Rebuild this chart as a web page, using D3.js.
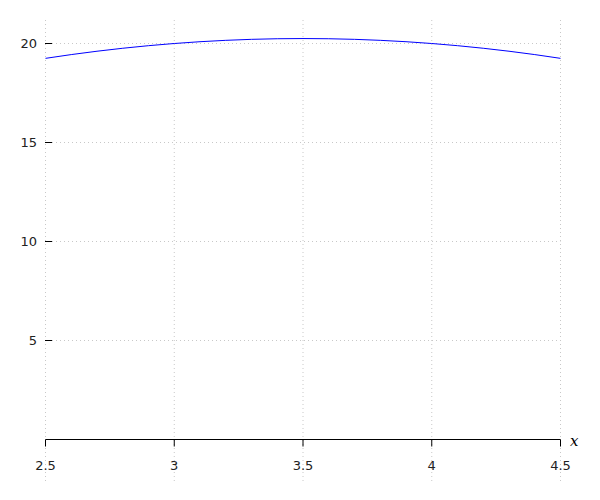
<!DOCTYPE html>
<html><head><meta charset="utf-8">
<script src="https://cdn.jsdelivr.net/npm/d3@7"></script>
<style>body{margin:0;background:#fff}</style>
</head><body>
<svg id="c" width="600" height="500"></svg>
<script>
const xs = [2.5,2.6,2.7,2.8,2.9,3.0,3.1,3.2,3.3,3.4,3.5,3.6,3.7,3.8,3.9,4.0,4.1,4.2,4.3,4.4,4.5];
const ys = [19.25,19.44,19.61,19.76,19.89,20.0,20.09,20.16,20.21,20.24,20.25,20.24,20.21,20.16,20.09,20.0,19.89,19.76,19.61,19.44,19.25];
const xTicks = [2.5,3,3.5,4,4.5];
const xTickLabels = ["2.5","3","3.5","4","4.5"];
const yTicks = [5,10,15,20];
const yTickLabels = ["5","10","15","20"];

const svg = d3.select("#c");
const x = d3.scaleLinear().domain([2.5,4.5]).range([45.5,560.5]);
const y = d3.scaleLinear().domain([0,20]).range([439.5,43.5]);
const font = "DejaVu Sans, sans-serif";

// grid
svg.append("g").selectAll("line").data(xTicks).join("line")
  .attr("x1",d=>x(d)).attr("x2",d=>x(d)).attr("y1",20).attr("y2",481)
  .attr("stroke","#c8c8c8").attr("stroke-width",1).attr("stroke-dasharray","1,3");
svg.append("g").selectAll("line").data(yTicks).join("line")
  .attr("x1",52).attr("x2",x(4.5)).attr("y1",d=>y(d)).attr("y2",d=>y(d))
  .attr("stroke","#c8c8c8").attr("stroke-width",1).attr("stroke-dasharray","1,3");

// x axis
svg.append("line").attr("x1",x(2.5)).attr("x2",x(4.5)).attr("y1",y(0)).attr("y2",y(0))
  .attr("stroke","#000").attr("stroke-width",1);
svg.append("g").selectAll("line").data(xTicks).join("line")
  .attr("x1",d=>x(d)).attr("x2",d=>x(d)).attr("y1",y(0)).attr("y2",y(0)+7)
  .attr("stroke","#000").attr("stroke-width",1);
svg.append("g").selectAll("text").data(xTicks).join("text")
  .attr("x",d=>x(d)).attr("y",470).attr("text-anchor","middle")
  .attr("font-family",font).attr("font-size",13).attr("fill","#222")
  .text((d,i)=>xTickLabels[i]);

// y ticks
svg.append("g").selectAll("line").data(yTicks).join("line")
  .attr("x1",45).attr("x2",52).attr("y1",d=>y(d)).attr("y2",d=>y(d))
  .attr("stroke","#000").attr("stroke-width",1);
svg.append("g").selectAll("text").data(yTicks).join("text")
  .attr("x",37).attr("y",d=>y(d)).attr("dy","0.36em").attr("text-anchor","end")
  .attr("font-family",font).attr("font-size",13).attr("fill","#222")
  .text((d,i)=>yTickLabels[i]);

// x label
svg.append("text").attr("x",570).attr("y",446).attr("font-family","DejaVu Serif, serif")
  .attr("font-style","italic").attr("font-size",15).attr("fill","#000").text("x");

// curve
const line = d3.line().x((d,i)=>x(xs[i])).y(d=>y(d)).curve(d3.curveMonotoneX);
svg.append("path").datum(ys).attr("d",line).attr("fill","none")
  .attr("stroke","#0000ff").attr("stroke-width",1);
</script>
</body></html>
